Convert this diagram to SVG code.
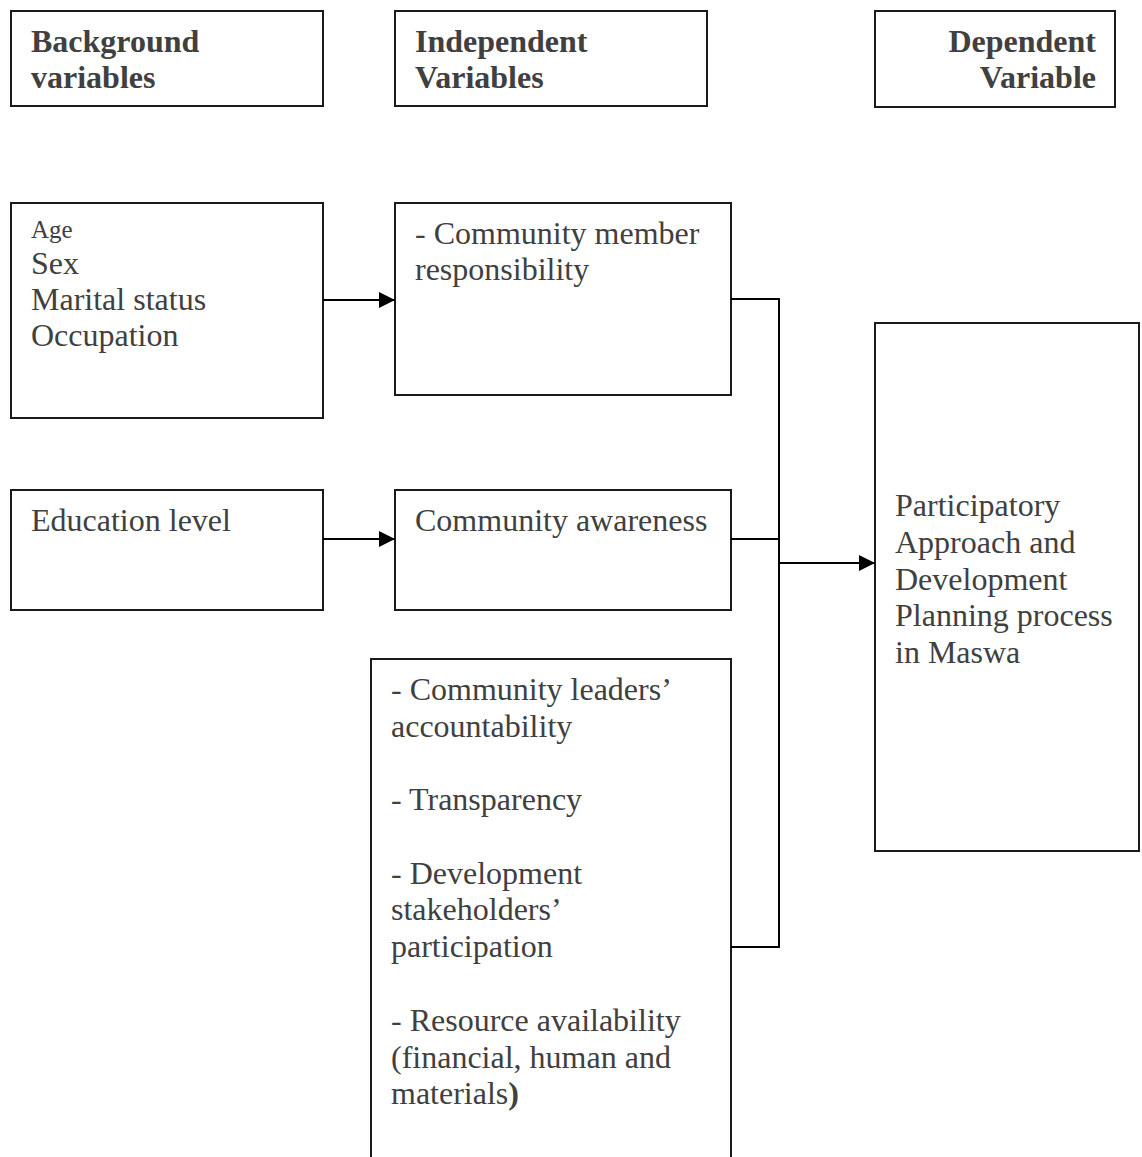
<svg xmlns="http://www.w3.org/2000/svg" width="1142" height="1157" viewBox="0 0 1142 1157">
<style>
.box{fill:#fff;stroke:#1a1a1a;stroke-width:2}
.t{font-family:"Liberation Serif","Times New Roman",serif;font-size:32px;fill:#404040}
.b{font-weight:bold}
.c{fill:none;stroke:#000;stroke-width:2}
</style>
<defs>
<marker id="arr" viewBox="0 0 16 16" refX="16" refY="8" markerWidth="16" markerHeight="16" markerUnits="userSpaceOnUse" orient="auto">
<path d="M0,0 L16,8 L0,16 Z" fill="#000"/>
</marker>
</defs>
<rect width="1142" height="1157" fill="#fff"/>
<g id="hdr-background">
<rect class="box" x="11" y="11" width="312" height="95"/>
<text class="t b" x="31" y="52">Background</text>
<text class="t b" x="31" y="88">variables</text>
</g>
<g id="hdr-independent">
<rect class="box" x="395" y="11" width="312" height="95"/>
<text class="t b" x="415" y="52">Independent</text>
<text class="t b" x="415" y="88">Variables</text>
</g>
<g id="hdr-dependent">
<rect class="box" x="875" y="11" width="240" height="96"/>
<text class="t b" x="1096" y="52" text-anchor="end">Dependent</text>
<text class="t b" x="1096" y="88" text-anchor="end">Variable</text>
</g>
<g id="n-demographics">
<rect class="box" x="11" y="203" width="312" height="215"/>
<text class="t" x="31" y="238" style="font-size:25px">Age</text>
<text class="t" x="31" y="274">Sex</text>
<text class="t" x="31" y="310">Marital status</text>
<text class="t" x="31" y="346">Occupation</text>
</g>
<g id="n-responsibility">
<rect class="box" x="395" y="203" width="336" height="192"/>
<text class="t" x="415" y="244">- Community member</text>
<text class="t" x="415" y="280">responsibility</text>
</g>
<g id="n-education">
<rect class="box" x="11" y="490" width="312" height="120"/>
<text class="t" x="31" y="531">Education level</text>
</g>
<g id="n-awareness">
<rect class="box" x="395" y="490" width="336" height="120"/>
<text class="t" x="415" y="531">Community awareness</text>
</g>
<g id="n-governance">
<rect class="box" x="371" y="659" width="360" height="510"/>
<text class="t" x="391" y="700">- Community leaders’</text>
<text class="t" x="391" y="737">accountability</text>
<text class="t" x="391" y="810">- Transparency</text>
<text class="t" x="391" y="884">- Development</text>
<text class="t" x="391" y="920">stakeholders’</text>
<text class="t" x="391" y="957">participation</text>
<text class="t" x="391" y="1031">- Resource availability</text>
<text class="t" x="391" y="1068">(financial, human and</text>
<text class="t" x="391" y="1104">materials<tspan class="b">)</tspan></text>
</g>
<g id="n-outcome">
<rect class="box" x="875" y="323" width="264" height="528"/>
<text class="t" x="895" y="516">Participatory</text>
<text class="t" x="895" y="553">Approach and</text>
<text class="t" x="895" y="590">Development</text>
<text class="t" x="895" y="626">Planning process</text>
<text class="t" x="895" y="663">in Maswa</text>
</g>
<g id="connectors">
<line class="c" x1="323" y1="300" x2="395" y2="300" marker-end="url(#arr)"/>
<line class="c" x1="323" y1="539" x2="395" y2="539" marker-end="url(#arr)"/>
<polyline class="c" points="731,299 779,299 779,947 731,947"/>
<line class="c" x1="731" y1="539" x2="779" y2="539"/>
<line class="c" x1="779" y1="563" x2="875" y2="563" marker-end="url(#arr)"/>
</g>
</svg>
